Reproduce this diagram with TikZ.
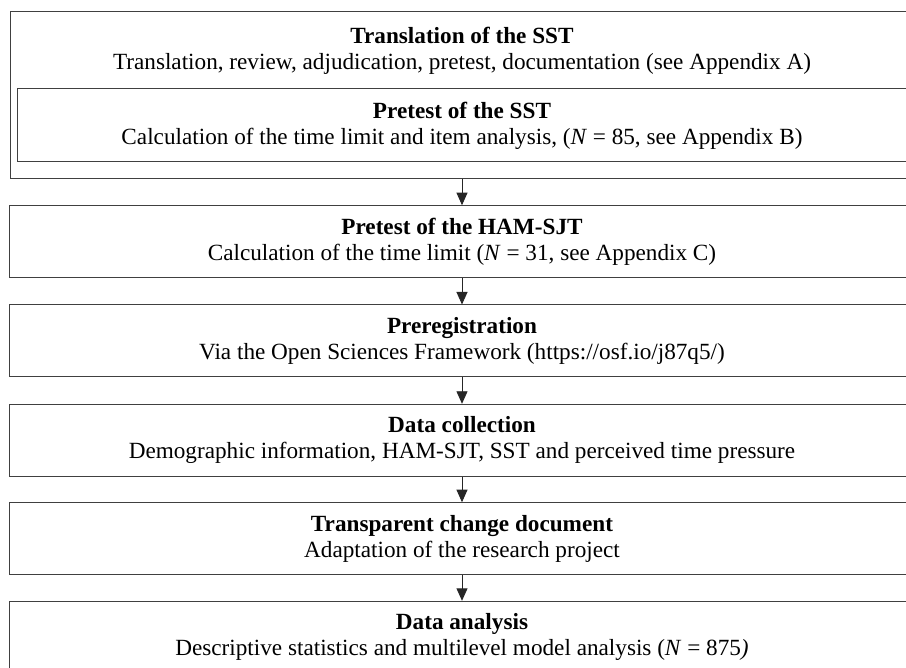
\documentclass[tikz,border=0pt]{standalone}
\usepackage{fontspec}
\setmainfont{Liberation Serif}
\usetikzlibrary{arrows.meta}

\tikzset{
    stage/.style={draw=black!75, line width=1pt, minimum width=906, minimum height=72, inner sep=0pt, align=center},
    flow/.style={-{Triangle[length=12.5pt,width=11pt]}, line width=0.9pt, black!85},
}

\begin{document}
\begin{tikzpicture}[x=1pt, y=-1pt, font=\fontsize{23.2}{26}\selectfont]
    \useasboundingbox (0,0) rectangle (906,668);
    \clip (0,0) rectangle (906,668);
    % Translation block
    \node[stage, minimum width=904, minimum height=167] (Outer) at (462,95.5) {};
    \node[align=center, inner sep=0pt] (Translation) at (462,51) {\textbf{Translation of the SST}\\Translation, review, adjudication, pretest, documentation (see Appendix A)};
    \node[stage, minimum width=890, minimum height=73] (Pretest-SST) at (462,125.5) {\textbf{Pretest of the SST}\\Calculation of the time limit and item analysis, (\textit{N} = 85, see Appendix B)};
    % Later stages
    \foreach \i/\y/\title/\desc in {
        1/241.7/{Pretest of the HAM-SJT}/{Calculation of the time limit (\textit{N} = 31, see Appendix C)},
        2/341/{Preregistration}/{Via the Open Sciences Framework (https://osf.io/j87q5/)},
        3/440.3/{Data collection}/{Demographic information, HAM-SJT, SST and perceived time pressure},
        4/538.7/{Transparent change document}/{Adaptation of the research project},
        5/637.3/{Data analysis}/{Descriptive statistics and multilevel model analysis (\textit{N} = 875\textit{)}}} {
        \node[stage] (Stage-\i) at (462,\y) {\textbf{\title}\\\desc};
    }
    % Arrows
    \draw[flow] (Outer.south) -- (Stage-1.north);
    \foreach \i/\j in {1/2,2/3,3/4,4/5} {
        \draw[flow] (Stage-\i.south) -- (Stage-\j.north);
    }
\end{tikzpicture}
\end{document}
